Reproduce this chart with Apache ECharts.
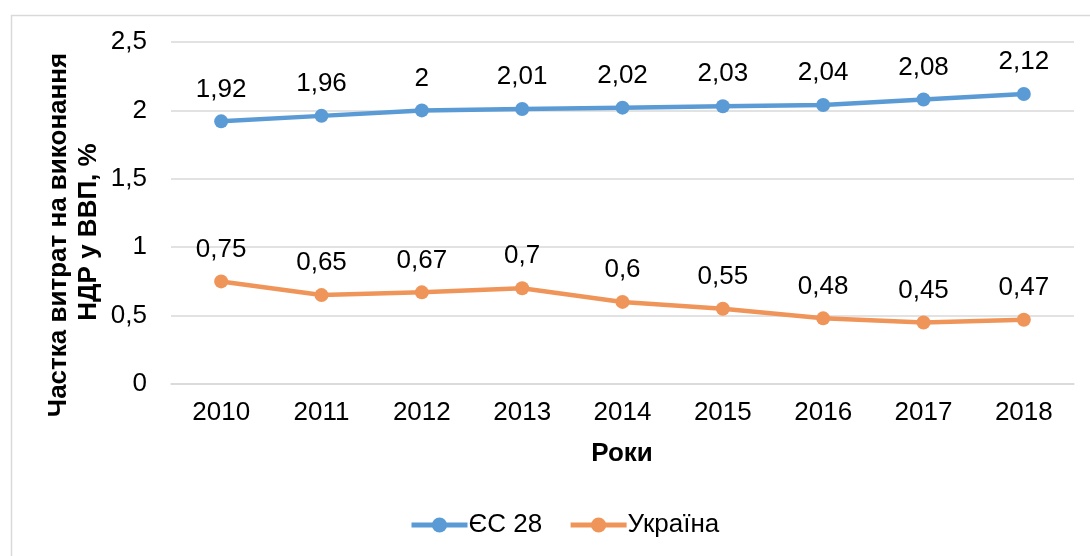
<!DOCTYPE html>
<html>
<head>
<meta charset="utf-8">
<script src="https://cdn.jsdelivr.net/npm/echarts@6/dist/echarts.min.js"></script>
<style>
html,body{margin:0;padding:0;background:#fff;}
#c{width:1090px;height:556px;}
</style>
</head>
<body>
<div id="c"></div>
<script>
const years = ['2010','2011','2012','2013','2014','2015','2016','2017','2018'];
const euValues = [1.92, 1.96, 2, 2.01, 2.02, 2.03, 2.04, 2.08, 2.12];
const uaValues = [0.75, 0.65, 0.67, 0.7, 0.6, 0.55, 0.48, 0.45, 0.47];
const seriesNames = ['ЄС 28', 'Україна'];
const yTitleLines = ['Частка витрат на виконання', 'НДР у ВВП, %'];
const xTitle = 'Роки';

const FONT = '"Liberation Sans", Arial, sans-serif';
const comma = v => String(v).replace('.', ',');
const chart = echarts.init(document.getElementById('c'), null, {renderer: 'canvas'});

function mkSeries(name, data, color) {
  return {
    name: name,
    type: 'line',
    data: data,
    symbol: 'circle',
    symbolSize: 14,
    itemStyle: {color: color},
    lineStyle: {color: color, width: 4.5},
    label: {
      show: true,
      position: 'top',
      distance: 12,
      fontFamily: FONT,
      fontSize: 26,
      color: '#000',
      formatter: p => comma(p.value)
    },
    emphasis: {disabled: true},
    animation: false
  };
}

chart.setOption({
  animation: false,
  backgroundColor: '#fff',
  grid: {left: 171, right: 16, top: 42, bottom: 172, containLabel: false},
  xAxis: {
    type: 'category',
    data: years,
    boundaryGap: true,
    axisLine: {show: true, lineStyle: {color: '#D9D9D9', width: 1.5}},
    axisTick: {show: false},
    axisLabel: {fontFamily: FONT, fontSize: 26, color: '#000', margin: 16},
    splitLine: {show: false}
  },
  yAxis: {
    type: 'value',
    min: 0,
    max: 2.5,
    interval: 0.5,
    axisLine: {show: false},
    axisTick: {show: false},
    axisLabel: {fontFamily: FONT, fontSize: 26, color: '#000', margin: 24, formatter: v => comma(v)},
    splitLine: {show: true, lineStyle: {color: '#D9D9D9', width: 1.5}}
  },
  legend: {
    data: seriesNames,
    left: 404,
    top: 507,
    itemWidth: 56,
    itemHeight: 19,
    itemGap: 26,
    lineStyle: {width: 5},
    textStyle: {fontFamily: FONT, fontSize: 26, color: '#000', padding: [0,0,0,-4]}
  },
  graphic: [
    {type: 'rect', left: 9, top: 13, shape: {x: 0, y: 0, width: 1100, height: 560}, style: {fill: 'none', stroke: '#D9D9D9', lineWidth: 1.5}, silent: true, z: -1},
    {type: 'text', x: 59, y: 235, rotation: Math.PI / 2, style: {text: yTitleLines[0], font: 'bold 26px ' + FONT, fill: '#000', align: 'center', verticalAlign: 'middle'}},
    {type: 'text', x: 89, y: 232, rotation: Math.PI / 2, style: {text: yTitleLines[1], font: 'bold 26px ' + FONT, fill: '#000', align: 'center', verticalAlign: 'middle'}},
    {type: 'text', x: 622, y: 454, style: {text: xTitle, font: 'bold 26px ' + FONT, fill: '#000', align: 'center', verticalAlign: 'middle'}}
  ],
  series: [
    mkSeries(seriesNames[0], euValues, '#5B9BD5'),
    mkSeries(seriesNames[1], uaValues, '#F0955A')
  ]
});
</script>
</body>
</html>
